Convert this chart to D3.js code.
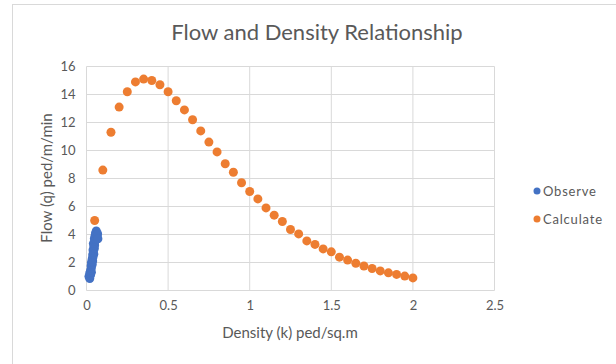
<!DOCTYPE html>
<html>
<head>
<meta charset="utf-8">
<script src="https://cdn.jsdelivr.net/npm/d3@7"></script>
<style>
  body { margin: 0; background: #fff; }
  svg text { font-family: Lato, "Open Sans", sans-serif; }
</style>
</head>
<body>
<svg></svg>
<script>
var xTicks = [0, 0.5, 1, 1.5, 2, 2.5]
var yTicks = [0, 2, 4, 6, 8, 10, 12, 14, 16]

// observed (density, flow) pairs
var observe = [
	[0.020, 0.85], [0.015, 1.00], [0.025, 1.10], [0.020, 1.25], [0.030, 1.30],
	[0.025, 1.45], [0.030, 1.60], [0.028, 1.75], [0.035, 1.85], [0.030, 2.00],
	[0.038, 2.10], [0.035, 2.25], [0.040, 2.40], [0.038, 2.55], [0.045, 2.60],
	[0.042, 2.75], [0.040, 2.90], [0.048, 3.00], [0.045, 3.15], [0.050, 3.25],
	[0.042, 3.35], [0.050, 3.50], [0.055, 3.60], [0.048, 3.70], [0.058, 3.80],
	[0.052, 3.90], [0.060, 4.00], [0.065, 3.90], [0.055, 4.10], [0.060, 4.25],
	[0.068, 4.05], [0.070, 3.70]
]

// calculated curve
var calcDensity = [0.05, 0.1, 0.15, 0.2, 0.25, 0.3, 0.35, 0.4, 0.45, 0.5,
	0.55, 0.6, 0.65, 0.7, 0.75, 0.8, 0.85, 0.9, 0.95, 1.0,
	1.05, 1.1, 1.15, 1.2, 1.25, 1.3, 1.35, 1.4, 1.45, 1.5,
	1.55, 1.6, 1.65, 1.7, 1.75, 1.8, 1.85, 1.9, 1.95, 2.0]
var calcFlow = [5.0, 8.6, 11.3, 13.1, 14.2, 14.9, 15.1, 15.0, 14.7, 14.2,
	13.55, 12.9, 12.2, 11.4, 10.6, 9.9, 9.05, 8.45, 7.7, 7.07,
	6.54, 5.9, 5.38, 4.93, 4.36, 4.04, 3.54, 3.29, 2.97, 2.76,
	2.38, 2.17, 1.95, 1.75, 1.57, 1.4, 1.26, 1.15, 1.03, 0.9]

var series = [
	{name: 'Observe', color: '#4472C4', points: observe},
	{name: 'Calculate', color: '#ED7D31', points: calcDensity.map(function(d, i) {return [d, calcFlow[i]]})}
]

var width = 616
var height = 364
var svg = d3.select('svg').attr('width', width).attr('height', height)

// chart frame (runs off the right and bottom of the picture)
svg.append('rect')
	.attr('x', 12.5).attr('y', 4.5)
	.attr('width', 700).attr('height', 500)
	.attr('fill', '#fff').attr('stroke', '#d9d9d9')

var x = d3.scaleLinear().domain([0, 2.5]).range([86.5, 494.5])
var y = d3.scaleLinear().domain([0, 16]).range([290.5, 66.5])

var grid = svg.append('g').attr('class', 'grid')
grid.selectAll('line.v').data(xTicks).enter().append('line')
	.attr('x1', function(d) {return x(d)}).attr('x2', function(d) {return x(d)})
	.attr('y1', y(0)).attr('y2', y(16))
	.attr('stroke', '#d9d9d9').attr('stroke-width', 1)
grid.selectAll('line.h').data(yTicks).enter().append('line')
	.attr('y1', function(d) {return y(d)}).attr('y2', function(d) {return y(d)})
	.attr('x1', x(0)).attr('x2', x(2.5))
	.attr('stroke', '#d9d9d9').attr('stroke-width', 1)

var xAxis = svg.append('g')
	.attr('transform', 'translate(0,' + y(0) + ')')
	.call(d3.axisBottom(x).tickValues(xTicks).tickSize(0).tickPadding(10).tickFormat(d3.format('')))
var yAxis = svg.append('g')
	.attr('transform', 'translate(' + x(0) + ',0)')
	.call(d3.axisLeft(y).tickValues(yTicks).tickSize(0).tickPadding(11))
;[xAxis, yAxis].forEach(function(a) {
	a.select('.domain').remove()
	a.selectAll('text').attr('fill', '#595959').style('font-size', '13px')
})

// markers
series.forEach(function(s) {
	svg.append('g').selectAll('circle')
		.data(s.points).enter().append('circle')
		.attr('cx', function(d) {return x(d[0])})
		.attr('cy', function(d) {return y(d[1])})
		.attr('r', 4.5)
		.attr('fill', s.color)
})

// titles
svg.append('text')
	.attr('x', 317).attr('y', 40)
	.attr('text-anchor', 'middle')
	.attr('fill', '#595959').style('font-size', '22px')
	.text('Flow and Density Relationship')
svg.append('text')
	.attr('x', 290).attr('y', 338)
	.attr('text-anchor', 'middle')
	.attr('fill', '#595959').style('font-size', '15px')
	.text('Density (k) ped/sq.m')
svg.append('text')
	.attr('transform', 'translate(52,178) rotate(-90)')
	.attr('text-anchor', 'middle')
	.attr('fill', '#595959').style('font-size', '15px')
	.text('Flow (q) ped/m/min')

// legend
var legend = svg.append('g').selectAll('g')
	.data(series).enter().append('g')
	.attr('transform', function(d, i) {return 'translate(537,' + (191 + i * 28) + ')'})
legend.append('circle').attr('r', 3.5).attr('fill', function(d) {return d.color})
legend.append('text')
	.attr('x', 6).attr('dy', '0.35em')
	.attr('fill', '#595959').style('font-size', '13px')
	.style('letter-spacing', '0.8px')
	.text(function(d) {return d.name})
</script>
</body>
</html>
